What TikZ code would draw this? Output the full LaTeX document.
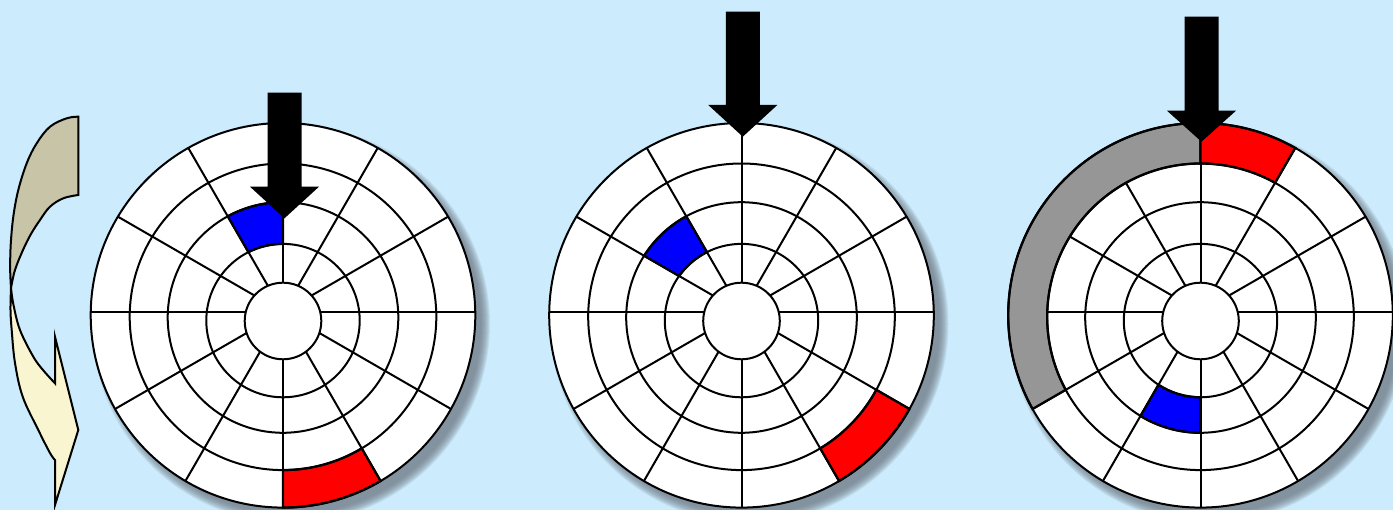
\documentclass[tikz,border=0pt]{standalone}
\definecolor{bgc}{RGB}{204,235,252}
\definecolor{khaki}{RGB}{200,196,168}
\definecolor{cream}{RGB}{248,245,208}
\definecolor{bandgray}{RGB}{150,150,150}
\definecolor{shadowc}{RGB}{110,120,130}
\def\RR{{0,38.3,76.7,115.3,153.3,192.3}}
\def\DD{{0,9,8.6,5.5,4.8,3.3}}
\tikzset{
  gridline/.style={draw=black,line width=2pt},
  cell/.style={draw=black,line width=2.3pt,line join=miter},
  hdarrow/.style={fill=black},
  turnarrow/.style={draw=black,line width=2pt,line join=miter}
}
% annular sector bounded by the spokes (from (cx,312)) at angles a,b and
% by ring circles i (inner) and o (outer); args: cx, i, o, a, b, style
\newcommand\annsec[6]{%
  \pgfmathsetmacro\ri{\RR[#2]}\pgfmathsetmacro\ro{\RR[#3]}%
  \pgfmathsetmacro\di{\DD[#2]}\pgfmathsetmacro\dO{\DD[#3]}%
  \pgfmathsetmacro\toa{-\dO*sin(#4)+100*sqrt((\ro/100)^2-(\dO*cos(#4)/100)^2)}%
  \pgfmathsetmacro\tob{-\dO*sin(#5)+100*sqrt((\ro/100)^2-(\dO*cos(#5)/100)^2)}%
  \pgfmathsetmacro\tia{-\di*sin(#4)+100*sqrt((\ri/100)^2-(\di*cos(#4)/100)^2)}%
  \pgfmathsetmacro\tib{-\di*sin(#5)+100*sqrt((\ri/100)^2-(\di*cos(#5)/100)^2)}%
  \pgfmathsetmacro\aoa{atan2(\toa*sin(#4)+\dO,\toa*cos(#4))}%
  \pgfmathsetmacro\aob{atan2(\tob*sin(#5)+\dO,\tob*cos(#5))}%
  \pgfmathsetmacro\aia{atan2(\tia*sin(#4)+\di,\tia*cos(#4))}%
  \pgfmathsetmacro\aib{atan2(\tib*sin(#5)+\di,\tib*cos(#5))}%
  \pgfmathsetmacro\aob{\aob+(\aob<\aoa)*360}%
  \pgfmathsetmacro\aib{\aib+(\aib<\aia)*360}%
  \path[#6] ({#1+\toa*cos(#4)},{312-\toa*sin(#4)}) arc[start angle=\aoa,end angle=\aob,radius=\ro pt]
    -- ({#1+\tib*cos(#5)},{312-\tib*sin(#5)}) arc[start angle=\aib,end angle=\aia,radius=\ri pt] -- cycle;}
\newcommand\diskbase[1]{%
  \foreach \i in {0,...,9}{\fill[shadowc,opacity=0.13] ({#1+8},{324}) circle[radius={(199-\i)*1pt}];}
  \fill[white] (#1,315.3) circle[radius=192.3pt];
  \begin{scope}
    \clip (#1,315.3) circle[radius=192.3pt];
    \foreach \a in {0,30,...,330}{\draw[gridline] (#1,312) -- ++(\a:230pt);}
  \end{scope}}
\newcommand\diskrings[1]{%
  \fill[white] (#1,321) circle[radius=38.3pt];
  \foreach \k in {1,...,5}{%
    \pgfmathsetmacro\rk{\RR[\k]}\pgfmathsetmacro\yk{312+\DD[\k]}%
    \draw[gridline] (#1,\yk) circle[radius=\rk pt];}}
% pointer arrow: shaft centre x, top y, head top y, tip y
\newcommand\pointer[4]{%
  \coordinate (tip) at (#1,#4);
  \fill[hdarrow] ({#1-17},#2) -- ({#1+17},#2) -- ({#1+17},#3) -- ({#1+34.5},#3)
    -- (tip) -- ({#1-34.5},#3) -- ({#1-17},#3) -- cycle;}
\begin{document}
\begin{tikzpicture}[x=1pt,y=-1pt]
\useasboundingbox (0,0) rectangle (1393,510);
\fill[bgc] (0,0) rectangle (1393,510);

% curved turn arrow
\filldraw[turnarrow,fill=khaki]
  plot[smooth,tension=0.6] coordinates {(78.3,116.7) (66.7,118.3) (50,126.7) (36.7,143.3) (26.7,163.3) (18.3,190) (13.3,216.7) (10.7,245) (10.2,270) (11,288)}
  -- plot[smooth,tension=0.6] coordinates {(11,288) (15,270) (23,250) (31,234) (40,220) (50,206.7) (63.3,198.3) (78.3,195)}
  -- cycle;
\filldraw[turnarrow,fill=cream]
  plot[smooth,tension=0.6] coordinates {(11,288) (10.5,310) (11.7,330) (15,363) (22.7,396.7) (38.3,430) (50,453) (55,460)}
  -- (55,505) -- (78.3,430) -- (55,336.7) -- (55,383.3)
  -- plot[smooth,tension=0.6] coordinates {(55,383.3) (43,370) (33.3,356.7) (20,330) (13.5,305) (11,288)}
  -- cycle;

% disk 1
\diskbase{283}
\annsec{283}{2}{3}{90}{120}{cell,fill=blue}
\annsec{283}{4}{5}{-90}{-60}{cell,fill=red}
\diskrings{283}
\pointer{284.5}{92.7}{186.7}{218.3}

% disk 2
\diskbase{741.5}
\annsec{741.5}{2}{3}{120}{150}{cell,fill=blue}
\annsec{741.5}{4}{5}{-60}{-30}{cell,fill=red}
\diskrings{741.5}
\pointer{742.8}{11.7}{105}{136.7}

% disk 3
\diskbase{1200.5}
\annsec{1200.5}{4}{5}{90}{210}{cell,fill=bandgray}
\annsec{1200.5}{4}{5}{60}{90}{cell,fill=red}
\annsec{1200.5}{2}{3}{240}{270}{cell,fill=blue}
\diskrings{1200.5}
\pointer{1201.5}{16.7}{110.7}{141.7}
\end{tikzpicture}
\end{document}
